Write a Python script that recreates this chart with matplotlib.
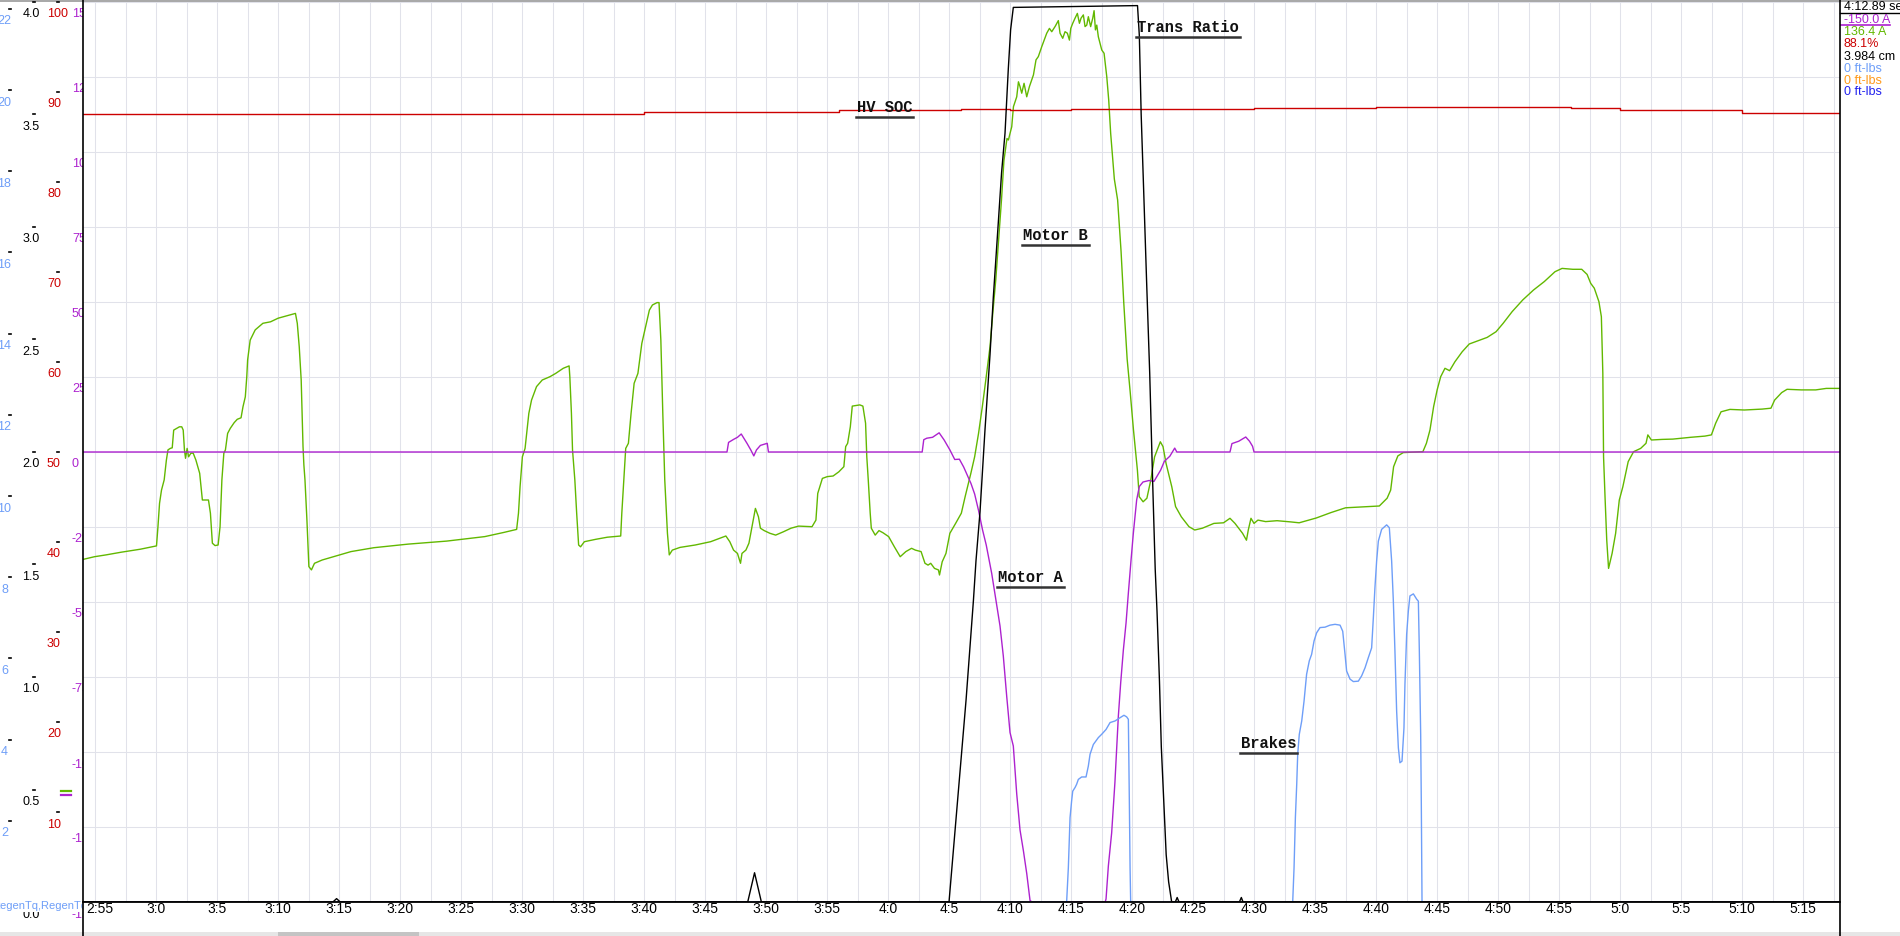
import matplotlib
matplotlib.use("Agg")
import matplotlib.pyplot as plt
from matplotlib import transforms
from matplotlib.lines import Line2D
from matplotlib.patches import Rectangle

# ---- data (time in seconds) ----
green_t = [174.02, 174.96, 175.9, 177.15, 178.72, 180.04, 180.16, 180.29, 180.45, 180.67, 180.85, 180.98,
           181.17, 181.33, 181.45, 181.7, 181.92, 182.11, 182.23, 182.33, 182.42, 182.55, 182.67, 182.86,
           183.05, 183.27, 183.58, 183.8, 184.3, 184.46, 184.62, 184.84, 185.09, 185.25, 185.4, 185.56,
           185.69, 185.87, 186.09, 186.41, 186.66, 186.97, 187.13, 187.32, 187.44, 187.51, 187.72, 188.13,
           188.76, 189.39, 190.01, 190.64, 191.43, 191.58, 191.74, 191.9, 192.05, 192.12, 192.21, 192.37,
           192.53, 192.74, 192.99, 193.62, 194.72, 195.98, 197.86, 200.68, 203.82, 206.95, 208.52, 209.56,
           209.71, 209.84, 210.03, 210.25, 210.56, 210.78, 211.19, 211.66, 212.29, 212.76, 213.38, 213.86,
           213.92, 214.05, 214.14, 214.33, 214.48, 214.64, 214.8, 215.11, 216.05, 217.0, 218.09, 218.18,
           218.34, 218.5, 218.72, 218.94, 219.19, 219.5, 219.82, 220.13, 220.44, 220.69, 221.07, 221.23,
           221.38, 221.54, 221.7, 221.92, 222.07, 222.32, 222.95, 224.2, 225.46, 226.56, 226.71, 227.03,
           227.34, 227.66, 227.91, 228.03, 228.35, 228.6, 228.85, 229.13, 229.38, 229.54, 229.85, 230.32,
           230.79, 231.42, 232.05, 232.67, 233.77, 234.09, 234.24, 234.62, 235.03, 235.5, 235.97, 236.38,
           236.53, 236.69, 236.91, 237.07, 237.69, 237.94, 238.16, 238.26, 238.38, 238.54, 238.63, 238.95,
           239.26, 239.58, 240.05, 240.52, 241.0, 241.46, 241.93, 242.24, 242.71, 243.03, 243.28, 243.5,
           243.81, 244.13, 244.22, 244.44, 244.75, 245.07, 245.54, 246.01, 246.32, 246.79, 247.1, 247.42,
           247.73, 248.05, 248.36, 248.61, 248.83, 249.05, 249.3, 249.5, 249.75, 249.87, 250.0, 250.14,
           250.28, 250.55, 250.69, 250.82, 250.96, 251.15, 251.37, 251.59, 251.92, 252.13, 252.32, 252.6,
           253.01, 253.23, 253.42, 253.69, 253.96, 254.1, 254.32, 254.51, 254.7, 254.87, 254.98, 255.14,
           255.33, 255.52, 255.69, 255.82, 256.01, 256.15, 256.29, 256.42, 256.61, 256.78, 256.89, 257.0,
           257.11, 257.24, 257.52, 257.71, 257.93, 258.09, 258.25, 258.55, 258.82, 259.1, 259.32, 259.6,
           259.85, 260.12, 260.44, 260.59, 260.91, 261.22, 261.54, 261.85, 262.32, 262.54, 262.79, 263.26,
           263.57, 264.04, 264.67, 265.14, 265.77, 266.71, 267.5, 268.03, 268.44, 269.06, 269.38, 269.53,
           269.75, 270.0, 270.32, 270.95, 271.89, 273.0, 273.7, 275.1, 276.3, 277.5, 278.9, 280.27,
           280.91, 281.2, 281.44, 281.79, 282.23, 283.84, 284.13, 284.42, 284.72, 285.01, 285.3, 285.65,
           286.03, 286.47, 287.06, 287.64, 288.37, 289.11, 289.84, 290.42, 291.16, 292.03, 292.91, 293.79,
           294.67, 295.25, 296.13, 296.86, 297.3, 297.6, 297.89, 298.27, 298.47, 298.59, 298.65, 298.77,
           298.91, 299.06, 299.35, 299.64, 299.94, 300.23, 300.67, 301.11, 301.69, 302.13, 302.28, 302.57,
           303.45, 304.33, 305.79, 306.96, 307.49, 307.84, 308.28, 309.01, 310.18, 311.64, 312.37, 312.67,
           313.25, 313.69, 314.86, 316.04, 316.91, 318.1]
green_a = [-35.8, -34.9, -34.3, -33.4, -32.4, -31.3, -24.9, -17.1, -12.7, -9.3, -2.7, 0.7,
           1.2, 1.4, 7.3, 7.9, 8.4, 8.4, 7.3, 0.7, -2.1, 1.2, -1.6, -0.4,
           -0.4, -2.7, -7.1, -16, -16, -20.4, -30.4, -31.2, -31, -24.9, -9.3, -0.4,
           0.7, 6.2, 7.9, 9.8, 10.9, 11.4, 15.1, 18.4, 25.1, 30.7, 37.3, 40.7,
           42.9, 43.4, 44.6, 45.3, 46.2, 42.9, 35.1, 24, 1.8, -4.3, -9.3, -22.7,
           -38.2, -39.3, -37.1, -36, -34.7, -33.2, -31.9, -30.7, -29.7, -28.2, -26.8, -25.8,
           -20.4, -11.6, -1.6, 1.2, 12.9, 17.3, 21.8, 24, 25.1, 26.2, 27.9, 28.7,
           25.1, 12.9, 0.7, -9.3, -20.4, -31, -31.6, -29.9, -29.1, -28.4, -28, -20.4,
           -9.3, 1.2, 2.9, 12.9, 22.9, 26.2, 36.2, 41.7, 47.3, 49, 49.8, 49.8,
           37.3, 12.9, -9.3, -27.1, -34.3, -32.7, -31.8, -31, -29.9, -28.2, -28, -29.9,
           -32.7, -33.8, -37.1, -33.8, -32.7, -30.4, -24.9, -18.8, -21.6, -25.4, -26.2, -27.1,
           -27.7, -26.6, -25.4, -24.7, -24.9, -22.7, -13.8, -8.8, -8.2, -8, -6.6, -4.9,
           1.8, 2.9, 8.4, 15.3, 15.7, 15.3, 9.6, -1.6, -9.3, -20.4, -25.4, -27.7,
           -26.2, -26.9, -28.2, -31.6, -34.9, -33.2, -32.1, -32.7, -33.2, -37.1, -37.7, -37.1,
           -38.8, -39.3, -41, -36.6, -33.8, -27.1, -23.8, -20.4, -14.9, -7.1, -1.6, 6.2,
           15.1, 25.1, 35.1, 47.3, 57.3, 69.7, 84, 97.1, 104.5, 104, 106.2, 108.4,
           115.1, 118.4, 123.4, 121.8, 119.6, 122.9, 118.4, 121.8, 125.7, 130.7, 131.8, 135.1,
           139.6, 141.2, 140.1, 141.8, 143.8, 139.6, 137.9, 140.1, 139.6, 137.3, 141.2, 142.9,
           144.6, 146.2, 142.9, 144.6, 145.7, 141.8, 142.3, 145.1, 141.8, 144.6, 147.1, 140.7,
           142.3, 138.4, 134, 132.9, 125.1, 117.3, 106.2, 91, 84, 67, 50, 31,
           20, 7.3, -6, -14.9, -16.6, -15.4, -9.3, -1.6, 3.4, 1.8, -3.8, -11.6,
           -18.2, -21.6, -24.9, -26, -25.4, -23.8, -23.6, -22.1, -23.8, -27.1, -29.4, -26,
           -22.1, -23.8, -22.7, -23.2, -22.9, -23.3, -23.6, -22.0, -20.2, -18.6, -18.3, -18,
           -15.4, -12.7, -4.9, -1.3, -0.2, 0.1, 2.9, 7.3, 15.1, 20.7, 25.1, 27.9,
           27.1, 30.1, 33.4, 36, 37.1, 38.2, 40.1, 42.9, 46.8, 50.7, 54, 56.8,
           60.1, 61.2, 60.9, 60.9, 59.2, 56.2, 54.6, 50.1, 45.1, 26.2, -1.6, -14.9,
           -29.3, -38.8, -33.8, -27.1, -16, -11.6, -3.2, 0.1, 1.2, 2.9, 5.7, 4,
           4.2, 4.3, 4.9, 5.3, 5.7, 9.6, 13.4, 14.2, 14, 14.3, 14.6, 17.3,
           19.8, 20.9, 20.7, 20.7, 21.2, 21.2]

purple_t = [174.0, 226.8, 226.93, 227.34, 227.66, 227.97, 228.44, 228.75, 229.0, 229.22, 229.54, 230.1,
            230.2, 242.8, 242.93, 243.18, 243.65, 244.19, 244.6, 245.07, 245.47, 245.85, 246.2, 246.8,
            247.1, 247.42, 247.75, 248.05, 248.5, 248.85, 249.18, 249.45, 249.73, 250.0, 250.27, 250.55,
            250.82, 251.1, 251.37, 251.64, 251.8, 257.8, 257.87, 258.06, 258.33, 258.6, 258.88, 259.07,
            259.29, 259.51, 259.7, 259.92, 260.11, 260.38, 260.6, 260.9, 261.4, 261.8, 262.35, 262.65,
            263.1, 263.5, 263.67, 268.03, 268.19, 268.75, 269.32, 269.63, 269.88, 270.0, 318.1]
purple_a = [0, 0, 3.2, 4.2, 4.9, 6.0, 2.9, 0.7, -1.3, 0.7, 2.2, 2.9,
            0, 0, 4.1, 4.6, 4.9, 6.4, 4.0, 0.7, -2.5, -2.4, -5.0, -10.5,
            -14, -19.5, -26, -31, -40.5, -49.5, -58, -68, -81.5, -93.5, -98, -114,
            -126, -133, -140.5, -149.5, -150, -150, -149, -138, -127, -110, -88, -77,
            -66, -57, -47, -36, -27, -16, -11.5, -10, -9.5, -9.8, -6, -3.1,
            -1.4, 1.3, 0, 0, 2.8, 3.6, 5.0, 3.6, 1.9, 0, 0]

soc_t = [174.0, 200.0, 220.0, 236.0, 246.0, 250.0, 255.0, 270.0, 280.0, 290.0, 296.0, 300.0, 310.0, 318.1]
soc_pct = [87.5, 87.6, 87.8, 88.0, 88.1, 88.0, 88.1, 88.2, 88.3, 88.3, 88.2, 88.0, 87.7, 87.5]

ratio_t = [174.0, 194.5, 194.8, 195.1, 228.5, 229.06, 229.62, 245.0, 245.7, 246.4, 247.0, 247.21,
           247.54, 247.95, 248.36, 248.63, 249.04, 249.31, 249.59, 249.86, 250.05, 250.27, 260.45, 260.6,
           260.75, 260.95, 261.2, 261.45, 261.7, 261.9, 262.05, 262.25, 262.4, 262.6, 262.8, 263.0,
           263.25, 263.55, 263.7, 263.85, 268.8, 268.96, 269.1, 318.1]
ratio_cm = [0, 0, 0.015, 0, 0, 0.13, 0, 0, 0.45, 0.9, 1.34, 1.516,
            1.734, 2.10, 2.433, 2.687, 3.02, 3.243, 3.417, 3.703, 3.877, 3.976, 3.984, 3.85,
            3.5, 3.17, 2.75, 2.35, 1.85, 1.48, 1.29, 0.98, 0.69, 0.45, 0.21, 0.09,
            0.0, 0, 0.02, 0, 0, 0.02, 0, 0]

brake_t = [174.0, 254.64, 254.78, 254.92, 255.05, 255.14, 255.33, 255.46, 255.6, 255.87, 256.23, 256.42,
           256.56, 256.83, 257.24, 257.51, 257.87, 258.2, 258.61, 259.02, 259.34, 259.56, 259.7, 259.78,
           259.84, 259.89, 273.17, 273.28, 273.39, 273.5, 273.58, 273.71, 273.91, 274.1, 274.31, 274.53,
           274.72, 274.92, 275.13, 275.41, 275.82, 276.23, 276.64, 277.05, 277.27, 277.46, 277.59, 277.87,
           278.14, 278.55, 278.82, 279.1, 279.37, 279.64, 279.78, 279.91, 280.05, 280.19, 280.46, 280.87,
           281.09, 281.28, 281.42, 281.55, 281.69, 281.83, 281.96, 282.13, 282.29, 282.37, 282.51, 282.65,
           282.78, 283.06, 283.33, 283.47, 283.55, 283.66, 283.71, 283.77, 318.1]
brake_lbs = [0, 0, 0.84, 2.08, 2.49, 2.73, 2.82, 2.9, 3.02, 3.08, 3.08, 3.35,
             3.64, 3.88, 4.05, 4.13, 4.25, 4.42, 4.46, 4.54, 4.6, 4.56, 4.5, 2.49,
             0.84, 0, 0, 0.84, 2.08, 2.9, 3.64, 4.13, 4.46, 4.95, 5.61, 5.94,
             6.1, 6.43, 6.63, 6.76, 6.77, 6.82, 6.84, 6.82, 6.67, 6.1, 5.69, 5.49,
             5.43, 5.44, 5.57, 5.77, 6.02, 6.26, 7.0, 7.74, 8.4, 8.89, 9.18, 9.29,
             9.22, 8.4, 7.41, 6.18, 4.7, 3.8, 3.43, 3.47, 4.29, 5.36, 6.59, 7.17,
             7.54, 7.59, 7.46, 7.41, 6.18, 4.13, 2.49, 0, 0]
zero_t = [174.0, 318.1]
regen_a = [0, 0]
regen_b = [0, 0]

legend_lines = ["4:12.89 sec", "-150.0 A", "136.4 A", "88.1%", "3.984 cm", "0 ft-lbs", "0 ft-lbs", "0 ft-lbs"]

GREEN, PURPLE, RED, BLUE = "#62b800", "#ad22cf", "#cc0000", "#6e9ef8"
ORANGE, DBLUE = "#ff9a1a", "#2222ee"

W, H = 1900, 936
fig = plt.figure(figsize=(W / 100, H / 100), dpi=100)


def fx(x):
    return x / W


def fy(y):
    return 1 - y / H


ax = fig.add_axes([fx(83), fy(902), fx(1840) - fx(83), fy(2) - fy(902)])
ax.set_xlim(174.016, 318.03)
ax.set_ylim(-150, 150)
major = list(range(175, 316, 5))
ax.set_xticks(major)
ax.set_xticks([m + 2.5 for m in major], minor=True)
ax.set_yticks(range(-150, 151, 25))
ax.grid(True, which="both", color="#e1e2ea", lw=0.75)
ax.tick_params(which="both", length=0, labelbottom=False, labelleft=False)
for sp in ax.spines.values():
    sp.set_visible(False)

ax_blue = ax.twinx()
ax_blue.set_ylim(0, 22.17)
ax_red = ax.twinx()
ax_red.set_ylim(0, 100)
ax_black = ax.twinx()
ax_black.set_ylim(0, 4)
for a in (ax_blue, ax_red, ax_black):
    a.axis("off")

ax.plot(green_t, green_a, color=GREEN, lw=1.0, zorder=3)
ax.plot(purple_t, purple_a, color=PURPLE, lw=1.0, zorder=4)
ax_blue.plot(zero_t, regen_a, color=ORANGE, lw=1.0)
ax_blue.plot(zero_t, regen_b, color=DBLUE, lw=1.0)
ax_blue.plot(brake_t, brake_lbs, color=BLUE, lw=1.0)
ax_red.plot(soc_t, soc_pct, color=RED, lw=1.0, drawstyle="steps-post")
ax_black.plot(ratio_t, ratio_cm, color="black", lw=1.0)

# time labels
tl = transforms.blended_transform_factory(ax.transData, ax.transAxes)
for i, t in enumerate(major):
    ax.text(t if i else 174.25, -0.0075, f"{t // 60}:{t % 60}", transform=tl,
            ha="center" if i else "left", va="center", fontsize=10,
            family=["Liberation Sans Narrow", "Liberation Sans"], clip_on=False)

# left value scales
lab_font = dict(fontsize=9, family=["Liberation Sans", "DejaVu Sans"])


def scale(axk, values, texts, color, x, ha, tick_x=None, clip=False):
    base = transforms.blended_transform_factory(fig.transFigure, axk.transData)
    lab = transforms.offset_copy(base, y=-12.5, units="dots")
    for v, s in zip(values, texts):
        t = fig.text(fx(x), v, s, transform=lab, color=color, ha=ha, va="center", **lab_font)
        if clip:
            t.set_clip_box(transforms.TransformedBbox(
                transforms.Bbox([[0, 0], [fx(83), 1]]), fig.transFigure))
            t.set_clip_on(True)
        if tick_x is not None:
            fig.add_artist(Line2D([fx(tick_x), fx(tick_x + 2)], [v, v], transform=base,
                                  color="black", lw=1.2))


scale(ax_blue, range(2, 23, 2), [str(v) for v in range(2, 23, 2)], BLUE, 4.5, "center", 9)
scale(ax_black, [i * 0.5 for i in range(9)], [f"{i * 0.5:.1f}" for i in range(9)], "black", 31, "center", 33)
scale(ax_red, range(10, 101, 10), [str(v) for v in range(10, 101, 10)], RED, 47, "left", 57)
scale(ax, range(-150, 151, 25), [str(v) for v in range(-150, 151, 25)], PURPLE, 72, "left", clip=True)

fig.text(fx(48), fy(912), "-", color=RED, va="center", **lab_font)
rg = fig.text(fx(-8), fy(906), "RegenTq,RegenTq,RegenTq", color=BLUE, va="center", fontsize=8,
              family=["Liberation Sans", "DejaVu Sans"], zorder=5,
              bbox=dict(facecolor="white", edgecolor="none", pad=0.5))
rg.set_clip_box(transforms.TransformedBbox(transforms.Bbox([[0, 0], [fx(83), 1]]), fig.transFigure))
rg.set_clip_on(True)
fig.add_artist(Line2D([fx(61), fx(71)], [fy(791), fy(791)], color=GREEN, lw=1.6))
fig.add_artist(Line2D([fx(61), fx(71)], [fy(795), fy(795)], color=PURPLE, lw=1.6))

# frame lines
fig.add_artist(Line2D([fx(83), fx(83)], [0, 1], color="black", lw=1.2, zorder=6))
fig.add_artist(Line2D([fx(1840), fx(1840)], [0, 1], color="black", lw=1.2, zorder=6))
fig.add_artist(Line2D([fx(83), fx(1840)], [fy(901.5), fy(901.5)], color="black", lw=1.3, zorder=6))
fig.add_artist(Rectangle((0, fy(2)), 1, 2 / H, color="#a9a9a9", lw=0, transform=fig.transFigure))
fig.add_artist(Rectangle((0, 0), 1, 4 / H, color="#e6e6e6", lw=0, transform=fig.transFigure))
fig.add_artist(Rectangle((fx(278), 0), fx(419) - fx(278), 4 / H, color="#c4c4c4", lw=0,
                         transform=fig.transFigure))

# series names on the plot
names = [("Trans Ratio", 1137, 28, 1240, 37), ("HV SOC", 857, 108, 913, 117),
         ("Motor B", 1023, 236, 1089, 245), ("Motor A", 998, 578, 1064, 587),
         ("Brakes", 1241, 744, 1297, 753)]
for s, x, y, x1, yu in names:
    fig.text(fx(x), fy(y), s, ha="left", va="center", fontsize=11.2, weight="bold",
             family=["Liberation Mono", "DejaVu Sans Mono"], color="#111111")
    fig.add_artist(Line2D([fx(x - 1), fx(x1)], [fy(yu), fy(yu)], color="#333333", lw=1.8))

# cursor readout panel
cols = ["black", PURPLE, GREEN, RED, "black", BLUE, ORANGE, DBLUE]
ys = [7, 20, 32, 44, 57, 69, 81, 92]
for s, c, y in zip(legend_lines, cols, ys):
    fig.text(fx(1844), fy(y), s, color=c, va="center", fontsize=9,
             family=["Liberation Sans", "DejaVu Sans"])
fig.add_artist(Line2D([fx(1840), 1], [fy(12.5), fy(12.5)], color="black", lw=1))
fig.add_artist(Line2D([fx(1841), fx(1890)], [fy(24.5), fy(24.5)], color=PURPLE, lw=1.2))

fig.savefig("out.png", dpi=100, facecolor="white")
